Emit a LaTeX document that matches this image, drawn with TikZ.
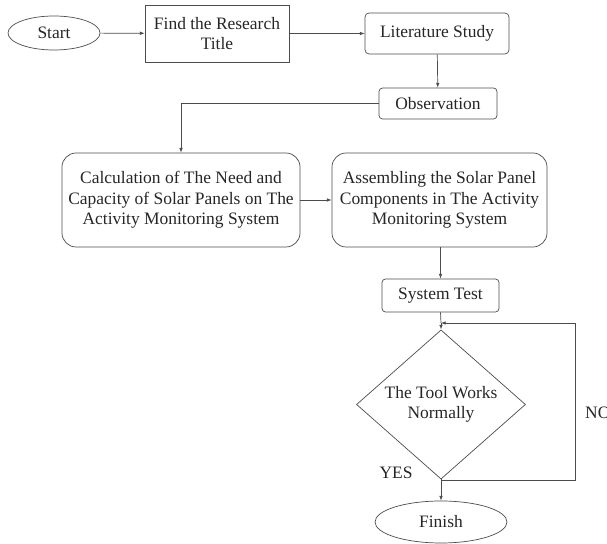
\documentclass[tikz,border=0pt]{standalone}
\usepackage{fontspec}
\setmainfont{Liberation Serif}
\usetikzlibrary{shapes.geometric}
\usetikzlibrary{arrows.meta}
\tikzset{
  flowline/.style={draw=black!70, line width=0.6pt},
  flowarrow/.style={flowline, -{Latex[length=4pt,width=3pt]}},
  stepbox/.style={draw=black!70, line width=0.6pt, align=center, inner sep=0pt,
    text=black!85, font=\fontsize{14.9pt}{17.5pt}\selectfont},
  roundbox/.style={stepbox, rounded corners=#1},
  termbox/.style={stepbox, ellipse},
  askbox/.style={stepbox, diamond},
  flowlabel/.style={text=black!85, inner sep=0pt, font=\fontsize{14.9pt}{17.5pt}\selectfont}
}

\begin{document}
\begin{tikzpicture}[x=0.03cm, y=-0.03cm]
\useasboundingbox (0,0) rectangle (607,544);

\node[termbox, minimum width=2.76cm, minimum height=1.02cm] (start) at (54,33) {Start};
\node[stepbox, minimum width=4.32cm, minimum height=1.71cm] (title) at (217,33.5) {Find the Research\\Title};
\node[roundbox=3.5pt, minimum width=4.32cm, minimum height=1.23cm] (litstudy) at (437,33.5) {Literature Study};
\node[roundbox=3pt, minimum width=3.54cm, minimum height=0.93cm] (observ) at (438,103.5) {Observation};
\node[roundbox=12pt, minimum width=7.14cm, minimum height=2.82cm] (calc) at (181,200)
  {Calculation of The Need and\\Capacity of Solar Panels on The\\Activity Monitoring System};
\node[roundbox=12pt, minimum width=6.45cm, minimum height=2.82cm] (assemble) at (439.5,200)
  {Assembling the Solar Panel\\Components in The Activity\\Monitoring System};
\node[roundbox=3pt, minimum width=3.51cm, minimum height=0.99cm] (systest) at (440.5,295.5) {System Test};
\node[askbox, minimum width=5.07cm, minimum height=3.69cm] (decide) at (441,404.5) {The Tool Works\\Normally};
\node[termbox, minimum width=3.96cm, minimum height=1.26cm] (finish) at (441,522) {Finish};

\coordinate (loopin) at (441,323);
\coordinate (nojoin) at (441,480);

\node[flowlabel] (yes) at (396,473) {YES};
\node[flowlabel, anchor=west] (no) at (585,413) {NO};

\draw[flowarrow] (start) -- (title);
\draw[flowarrow] (title) -- (litstudy);
\draw[flowarrow] (litstudy) -- (observ);
\draw[flowarrow] (observ.west) -| (calc.north);
\draw[flowarrow] (calc) -- (assemble);
\draw[flowarrow] (assemble.south -| systest.north) -- (systest.north);
\draw[flowline] (systest.south) -- (loopin);
\draw[flowarrow] (loopin) -- (decide.north);
\draw[flowarrow] (decide) -- (finish);
\draw[flowarrow] (nojoin) -- ++(134,0) |- (loopin);
\end{tikzpicture}
\end{document}
